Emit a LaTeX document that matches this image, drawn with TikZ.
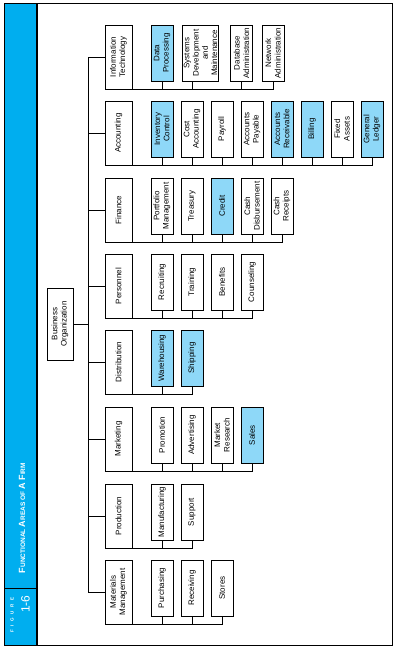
\documentclass[tikz,border=0pt]{standalone}
\usepackage{fontspec}
\setmainfont{Liberation Sans}
\definecolor{stripblue}{RGB}{0,174,239}
\definecolor{boxblue}{RGB}{142,216,248}
\tikzset{
  orgbox/.style={draw=black,line width=0.8pt,rotate=90,align=center,inner sep=1pt,
    font=\fontsize{8}{9.3}\selectfont},
  dept/.style={orgbox,minimum width=64pt,minimum height=27pt},
  sub/.style={orgbox,minimum width=56pt,minimum height=22pt},
  lite/.style={fill=white},
  hilite/.style={fill=boxblue},
  link/.style={line width=0.8pt,black}
}
% fake small caps for the title
\newcommand\capsc[2]{{\fontsize{9}{9}\selectfont #1}{\fontsize{6.5}{6.5}\selectfont #2}}
% one row of sub-units under department #1 (centre y = #2)
\newcommand\subrow[3]{%
  \foreach [count=\k] \t/\s in {#3}{
    \node[sub,\s] (#1\k) at ({162+30*(\k-1)},{#2-4}) {\t};
    \draw[link] (#1\k.west) |- (#1.north west);
  }}
\begin{document}
\begin{tikzpicture}[x=1pt,y=-1pt]
\useasboundingbox (0,0) rectangle (400,653);
% frame and side strip
\fill[stripblue] (5,4) rectangle (36.5,645);
\draw[line width=1pt] (4.5,3.5) rectangle (392.7,645.5);
\draw[line width=1.3pt] (37,3.5) -- (37,645.5);
\draw[line width=1pt] (5,588) -- (36.5,588);
\node[rotate=90,text=white,font=\bfseries\fontsize{4.5}{5}\selectfont] (fig) at (12,615)
  {F\kern3.6pt I\kern3.6pt G\kern3.6pt U\kern3.6pt R\kern3.6pt E};
\node[rotate=90,text=white,font=\fontsize{12}{12}\selectfont] (fignum) at (25.5,604) {1-6};
\node[rotate=90,text=white,font=\bfseries\fontsize{8}{8}\selectfont] (title) at (22,518)
  {\capsc{F}{UNCTIONAL} \capsc{A}{REAS} \capsc{}{OF} \capsc{A}{} \capsc{F}{IRM}};
% top and departments
\node[orgbox,minimum width=72pt,minimum height=26pt] (bo) at (60,324) {Business\\Organization};
\foreach \d/\y/\t in {it/57/{Information\\Technology},acc/133/Accounting,fin/210/Finance,
  per/286/Personnel,dis/362/Distribution,mkt/439/Marketing,pro/516/Production,
  mm/592/{Materials\\Management}}
  \node[dept] (\d) at (118.5,\y) {\t};
\coordinate (trunk) at (88,324);
\draw[link] (bo.south) -- (trunk);
\draw[link] (it.north -| trunk) -- (mm.north -| trunk);
\foreach \d in {it,acc,fin,per,dis,mkt,pro,mm} \draw[link] (\d.north) -- (\d.north -| trunk);
% information technology
\node[sub,hilite] (it1) at (162,53) {Data\\Processing};
\node[sub,lite] (it2) at (200.5,53) {Systems\\Development\\and\\Maintenance};
\node[sub,lite] (it3) at (241.5,53) {Database\\Administration};
\node[sub,lite] (it4) at (273,53) {Network\\Administration};
\draw[link] (it1.west) |- (it.north west);
\draw[link] ([xshift=-8.5pt]it2.west) |- (it.north west);
\draw[link] (it3.west) |- (it.north west);
\draw[link] (it4.west) |- (it.north west);
% other departments
\subrow{acc}{133}{{Inventory\\Control}/hilite,{Cost\\Accounting}/lite,Payroll/lite,
  {Accounts\\Payable}/lite,{Accounts\\Receivable}/hilite,Billing/hilite,
  {Fixed\\Assets}/lite,{General\\Ledger}/hilite}
\subrow{fin}{210}{{Portfolio\\Management}/lite,Treasury/lite,Credit/hilite,
  {Cash\\Disbursement}/lite,{Cash\\Receipts}/lite}
\subrow{per}{286}{Recruiting/lite,Training/lite,Benefits/lite,Counseling/lite}
\subrow{dis}{362}{Warehousing/hilite,Shipping/hilite}
\subrow{mkt}{439}{Promotion/lite,Advertising/lite,{Market\\Research}/lite,Sales/hilite}
\subrow{pro}{516}{Manufacturing/lite,Support/lite}
\subrow{mm}{592}{Purchasing/lite,Receiving/lite,Stores/lite}
\end{tikzpicture}
\end{document}
